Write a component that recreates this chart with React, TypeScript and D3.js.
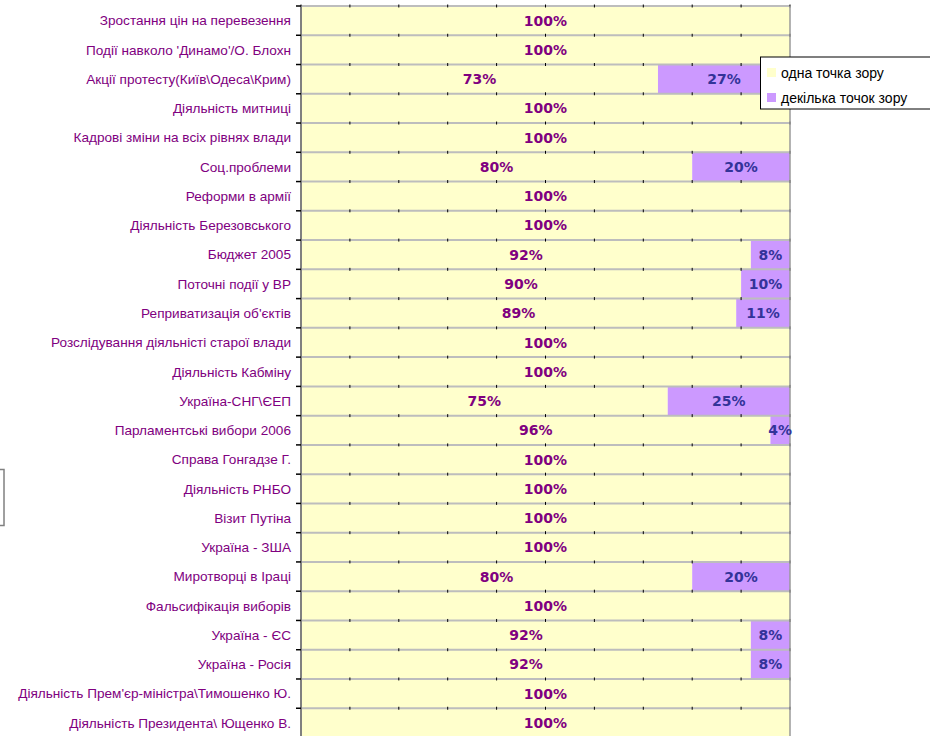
import React from "react";
import * as d3 from "d3";

// categories top → bottom
const categories = [
  "Зростання цін на перевезення",
  "Події навколо 'Динамо'/О. Блохн",
  "Акції протесту(Київ\\Одеса\\Крим)",
  "Діяльність митниці",
  "Кадрові зміни на всіх рівнях влади",
  "Соц.проблеми",
  "Реформи в армії",
  "Діяльність Березовського",
  "Бюджет 2005",
  "Поточні події у ВР",
  "Реприватизація об'єктів",
  "Розслідування діяльністі старої влади",
  "Діяльність Кабміну",
  "Україна-СНГ\\ЄЕП",
  "Парламентські вибори 2006",
  "Справа Гонгадзе Г.",
  "Діяльність РНБО",
  "Візит Путіна",
  "Україна - ЗША",
  "Миротворці в Іраці",
  "Фальсифікація виборів",
  "Україна - ЄС",
  "Україна - Росія",
  "Діяльність Прем'єр-міністра\\Тимошенко Ю.",
  "Діяльність Президента\\ Ющенко В.",
];

const onePoint = [100, 100, 73, 100, 100, 80, 100, 100, 92, 90, 89, 100, 100, 75, 96, 100, 100, 100, 100, 80, 100, 92, 92, 100, 100];
const manyPoints = [0, 0, 27, 0, 0, 20, 0, 0, 8, 10, 11, 0, 0, 25, 4, 0, 0, 0, 0, 20, 0, 8, 8, 0, 0];

const seriesNames = ["одна точка зору", "декілька точок зору"];
const seriesColors = ["#FFFFCC", "#CC99FF"];
const labelColors = ["#800080", "#333399"];
const xTicks = d3.range(0, 101, 10);

const width = 930;
const height = 736;
const plotLeft = 301;
const plotRight = 790;
const plotTop = 6;
const plotBottom = 737.5;

export default function App() {
  const x = d3.scaleLinear().domain([0, 100]).range([plotLeft, plotRight]);
  const y = d3
    .scaleBand<string>()
    .domain(categories)
    .range([plotTop, plotBottom])
    .padding(0);
  const bw = y.bandwidth();
  const boundaries = d3.range(categories.length + 1).map((i) => plotTop + i * bw);

  const stackData = categories.map((c, i) => ({ c, a: onePoint[i], b: manyPoints[i] }));
  const stacked = d3.stack<any>().keys(["a", "b"])(stackData);

  return (
    <svg
      width={width}
      height={height}
      style={{ position: "absolute", left: 0, top: 0, background: "#fff" }}
      fontFamily="'DejaVu Sans', Verdana, sans-serif"
    >
      {/* bars */}
      {stacked.map((s, si) => (
        <g key={si}>
          {s.map((d, i) =>
            d[1] - d[0] > 0 ? (
              <rect
                key={i}
                x={x(d[0])}
                y={y(categories[i])}
                width={x(d[1]) - x(d[0])}
                height={bw}
                fill={seriesColors[si]}
              />
            ) : null
          )}
        </g>
      ))}

      {/* row separators */}
      {boundaries.map((b, i) => (
        <line key={i} x1={plotLeft} x2={plotRight} y1={b} y2={b} stroke="#BDBDBD" strokeWidth={2} />
      ))}
      {/* small ticks along separators */}
      {boundaries.map((b, i) =>
        xTicks.map((t) => (
          <line key={i + "-" + t} x1={x(t)} x2={x(t)} y1={b - 1.5} y2={b + 1.5} stroke="#000" strokeWidth={1} />
        ))
      )}

      {/* plot borders */}
      <line x1={plotRight} x2={plotRight} y1={plotTop} y2={plotBottom} stroke="#9A9A9A" strokeWidth={1.5} />
      <line x1={plotLeft} x2={plotLeft} y1={plotTop} y2={plotBottom} stroke="#808080" strokeWidth={2} />
      {boundaries.map((b, i) => (
        <line key={i} x1={plotLeft - 5} x2={plotLeft} y1={b} y2={b} stroke="#000" strokeWidth={1.5} />
      ))}

      {/* category labels */}
      {categories.map((c) => (
        <text
          key={c}
          x={plotLeft - 10}
          y={(y(c) as number) + bw / 2}
          dy="0.35em"
          textAnchor="end"
          fontSize={13.6}
          fill="#800080"
          fontFamily="'Liberation Sans', Arial, sans-serif"
        >
          {c}
        </text>
      ))}

      {/* value labels */}
      {stacked.map((s, si) =>
        s.map((d, i) =>
          d[1] - d[0] > 0 ? (
            <text
              key={si + "-" + i}
              x={(x(d[0]) + x(d[1])) / 2}
              y={(y(categories[i]) as number) + bw / 2}
              dy="0.36em"
              textAnchor="middle"
              fontSize={14}
              fontWeight="bold"
              fill={labelColors[si]}
            >
              {d[1] - d[0]}%
            </text>
          ) : null
        )
      )}

      {/* legend */}
      <rect x={760.5} y={57} width={200} height={52} fill="#fff" stroke="#000" strokeWidth={1} />
      {seriesNames.map((n, i) => (
        <g key={n} transform={`translate(767,${68 + i * 25})`}>
          <rect x={0} y={0} width={9} height={9} fill={seriesColors[i]} />
          <text x={14} y={5} dy="0.35em" fontSize={14} fill="#000" fontFamily="'Liberation Sans', Arial, sans-serif">
            {n}
          </text>
        </g>
      ))}

      {/* partially visible box at left edge */}
      <rect x={-40} y={469.5} width={44} height={56} fill="none" stroke="#808080" strokeWidth={1.5} />
    </svg>
  );
}
